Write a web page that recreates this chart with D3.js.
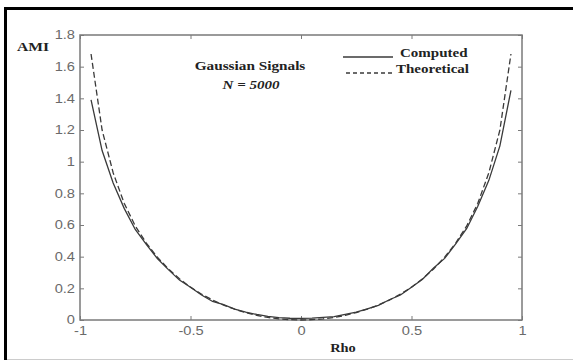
<!DOCTYPE html>
<html>
<head>
<meta charset="utf-8">
<script src="https://cdn.jsdelivr.net/npm/d3@7"></script>
<style>
  html, body { margin: 0; padding: 0; background: #fff; }
  svg { display: block; }
</style>
</head>
<body>
<svg id="chart" width="573" height="360"></svg>
<script>
// Correlation coefficient (Rho) sample points
const rho = [-0.95, -0.9, -0.85, -0.8, -0.75, -0.7, -0.65, -0.6, -0.55, -0.5,
             -0.45, -0.4, -0.35, -0.3, -0.25, -0.2, -0.15, -0.1, -0.05, 0,
             0.05, 0.1, 0.15, 0.2, 0.25, 0.3, 0.35, 0.4, 0.45, 0.5,
             0.55, 0.6, 0.65, 0.7, 0.75, 0.8, 0.85, 0.9, 0.95];

// Average mutual information, estimated from N = 5000 samples
const computed = [1.39, 1.07, 0.865, 0.705, 0.572, 0.478, 0.388, 0.318, 0.252, 0.207,
                  0.158, 0.117, 0.097, 0.069, 0.049, 0.035, 0.023, 0.015, 0.011, 0.010,
                  0.012, 0.016, 0.021, 0.036, 0.049, 0.071, 0.093, 0.128, 0.158, 0.207,
                  0.258, 0.328, 0.389, 0.481, 0.578, 0.718, 0.882, 1.10, 1.45];

// Average mutual information, theoretical value
const theoretical = [1.68, 1.20, 0.93, 0.737, 0.594, 0.486, 0.397, 0.322, 0.260, 0.2075,
                     0.163, 0.126, 0.094, 0.068, 0.047, 0.029, 0.016, 0.007, 0.002, 0,
                     0.002, 0.007, 0.016, 0.029, 0.047, 0.068, 0.094, 0.126, 0.163, 0.2075,
                     0.260, 0.322, 0.397, 0.486, 0.594, 0.737, 0.93, 1.20, 1.68];

const xTicks = [-1, -0.5, 0, 0.5, 1];
const yTicks = [0, 0.2, 0.4, 0.6, 0.8, 1, 1.2, 1.4, 1.6, 1.8];

const svg = d3.select("#chart");

// Text in this figure is set slightly wide; stretch each label horizontally
function widen(sel, factor) {
  sel.each(function () {
    const w = this.getComputedTextLength();
    if (w > 0) {
      d3.select(this).attr("textLength", w * factor).attr("lengthAdjust", "spacingAndGlyphs");
    }
  });
}

// Page frame
svg.append("line").attr("x1", 5.5).attr("x2", 5.5).attr("y1", 7).attr("y2", 360)
  .attr("stroke", "#000").attr("stroke-width", 3);
svg.append("line").attr("x1", 4).attr("x2", 573).attr("y1", 8.5).attr("y2", 8.5)
  .attr("stroke", "#000").attr("stroke-width", 3);
svg.append("line").attr("x1", 7).attr("x2", 573).attr("y1", 359.5).attr("y2", 359.5)
  .attr("stroke", "#ccc").attr("stroke-width", 1);

const plotLeft = 80, plotRight = 522, plotTop = 35, plotBottom = 320;
const x = d3.scaleLinear().domain([-1, 1]).range([plotLeft, plotRight]);
const y = d3.scaleLinear().domain([0, 1.8]).range([plotBottom, plotTop]);

const axisColor = "#7a7a7a";
const tickFont = "Liberation Sans, Arial, sans-serif";
const plainNum = d => String(d); // hyphen-minus, as in "-0.5"

function styleAxis(g, showText) {
  g.select(".domain").remove();
  g.selectAll(".tick line").attr("stroke", axisColor).attr("stroke-width", 1);
  g.selectAll(".tick text")
    .attr("fill", "#6a6a6a")
    .attr("font-family", tickFont)
    .attr("font-size", 12)
    .style("display", showText ? null : "none");
  if (showText) widen(g.selectAll(".tick text"), 1.22);
}

// Bottom axis with labels, inward ticks
svg.append("g").attr("transform", `translate(0,${plotBottom})`)
  .call(d3.axisBottom(x).tickValues(xTicks).tickSize(-4).tickPadding(6).tickFormat(plainNum))
  .call(g => styleAxis(g, true));
// Top axis, ticks only
svg.append("g").attr("transform", `translate(0,${plotTop})`)
  .call(d3.axisTop(x).tickValues(xTicks).tickSize(-4))
  .call(g => styleAxis(g, false));
// Left axis with labels
svg.append("g").attr("transform", `translate(${plotLeft},0)`)
  .call(d3.axisLeft(y).tickValues(yTicks).tickSize(-4).tickPadding(5).tickFormat(plainNum))
  .call(g => styleAxis(g, true));
// Right axis, ticks only
svg.append("g").attr("transform", `translate(${plotRight},0)`)
  .call(d3.axisRight(y).tickValues(yTicks).tickSize(-4))
  .call(g => styleAxis(g, false));

// Plot box
svg.append("rect")
  .attr("x", plotLeft).attr("y", plotTop)
  .attr("width", plotRight - plotLeft).attr("height", plotBottom - plotTop)
  .attr("fill", "none").attr("stroke", axisColor).attr("stroke-width", 1.5);

// Curves
const line = d3.line().x(d => x(d[0])).y(d => y(d[1]));
const curveColor = "#3a3a3a";

svg.append("path")
  .datum(rho.map((r, i) => [r, theoretical[i]]))
  .attr("d", line)
  .attr("fill", "none").attr("stroke", curveColor).attr("stroke-width", 1.3)
  .attr("stroke-dasharray", "6,3");

svg.append("path")
  .datum(rho.map((r, i) => [r, computed[i]]))
  .attr("d", line)
  .attr("fill", "none").attr("stroke", curveColor).attr("stroke-width", 1.3);

// Axis titles
const serif = "Liberation Serif, Times New Roman, serif";
const textColor = "#222";
svg.append("text").attr("x", 17).attr("y", 51)
  .attr("font-family", serif).attr("font-weight", "bold").attr("font-size", 13)
  .attr("fill", textColor).text("AMI")
  .call(s => widen(s, 1.2));
svg.append("text").attr("x", 343).attr("y", 352).attr("text-anchor", "middle")
  .attr("font-family", serif).attr("font-weight", "bold").attr("font-size", 12)
  .attr("fill", textColor).text("Rho")
  .call(s => widen(s, 1.2));

// Annotation
svg.append("text").attr("x", 250).attr("y", 70).attr("text-anchor", "middle")
  .attr("font-family", serif).attr("font-weight", "bold").attr("font-size", 12.5)
  .attr("fill", textColor).text("Gaussian Signals")
  .call(s => widen(s, 1.22));
svg.append("text").attr("x", 251).attr("y", 89).attr("text-anchor", "middle")
  .attr("font-family", serif).attr("font-weight", "bold").attr("font-style", "italic")
  .attr("font-size", 12.5).attr("fill", textColor).text("N = 5000")
  .call(s => widen(s, 1.2));

// Legend
const legend = [
  { label: "Computed", dash: null, y: 57, x1: 343, tx: 400 },
  { label: "Theoretical", dash: "4,3", y: 73, x1: 346, tx: 396 }
];
legend.forEach(d => {
  svg.append("line").attr("x1", d.x1).attr("x2", 393).attr("y1", d.y).attr("y2", d.y)
    .attr("stroke", curveColor).attr("stroke-width", 1.3)
    .attr("stroke-dasharray", d.dash);
  svg.append("text").attr("x", d.tx).attr("y", d.y)
    .attr("font-family", serif).attr("font-weight", "bold").attr("font-size", 12.5)
    .attr("fill", textColor).text(d.label)
    .call(s => widen(s, 1.2));
});
</script>
</body>
</html>
